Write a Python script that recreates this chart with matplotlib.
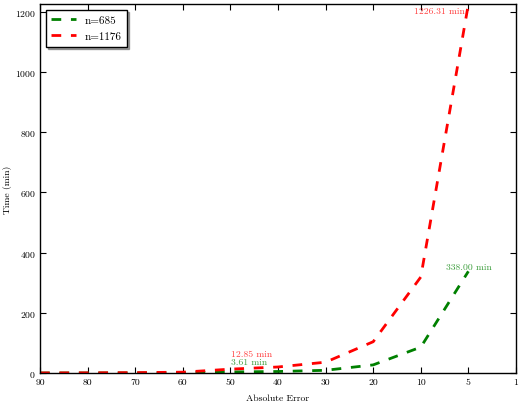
import numpy as np
import matplotlib
matplotlib.use('Agg')
import matplotlib.pyplot as plt

# data
abs_error = ['90', '80', '70', '60', '50', '40', '30', '20', '10', '5', '1']
time_685 = [0.1, 0.2, 0.4, 0.9, 3.61, 5.0, 9.0, 27.0, 86.0, 338.00]
time_1176 = [0.2, 0.5, 1.2, 2.8, 12.85, 20.0, 36.0, 104.0, 319.0, 1226.31]
labels = ['n=685', 'n=1176']

plt.rcParams['font.family'] = 'serif'
plt.rcParams['font.serif'] = ['cmr10', 'DejaVu Serif']
plt.rcParams['mathtext.fontset'] = 'cm'
plt.rcParams['axes.formatter.use_mathtext'] = True
plt.rcParams['xtick.direction'] = 'in'
plt.rcParams['ytick.direction'] = 'in'

fig = plt.figure(figsize=(5.22, 4.06), dpi=100)
ax = fig.add_axes([0.0766, 0.0788, 0.9119, 0.9089])

x = np.arange(len(time_685))
green = (0, 0.5, 0)
red = (1, 0, 0)
ax.plot(x, time_685, '--', color=green, lw=2, dashes=(3.5, 3.5), label=labels[0])
ax.plot(x, time_1176, '--', color=red, lw=2, dashes=(3.5, 3.5), label=labels[1])

# annotations
ax.annotate('%.2f min' % time_1176[-1], (x[-1], time_1176[-1]), xytext=(-4, -3),
            textcoords='offset pixels', ha='right', va='top', color=red, alpha=0.75, fontsize=7)
ax.annotate('%.2f min' % time_685[-1], (x[-1], time_685[-1]), xytext=(0, 2),
            textcoords='offset pixels', ha='center', va='baseline', color=green, alpha=0.75, fontsize=7)
ax.annotate('%.2f min' % time_1176[4], (x[4], time_1176[4]), xytext=(1, 13),
            textcoords='offset pixels', ha='left', va='baseline', color=red, alpha=0.75, fontsize=7)
ax.annotate('%.2f min' % time_685[4], (x[4], time_685[4]), xytext=(1, 8),
            textcoords='offset pixels', ha='left', va='baseline', color=green, alpha=0.75, fontsize=7)

ax.set_xlim(0, len(abs_error) - 1)
ax.set_ylim(0, 1226.31)
ax.set_xticks(np.arange(len(abs_error)))
ax.set_xticklabels(abs_error)
ax.set_yticks(np.arange(0, 1201, 200))
ax.tick_params(labelsize=7, top=True, right=True, length=4, width=0.8, pad=3)
ax.set_xlabel('Absolute Error', fontsize=7, labelpad=6)
ax.set_ylabel('Time (min)', fontsize=7, labelpad=2)
for s in ax.spines.values():
    s.set_linewidth(1)

leg = ax.legend(loc='upper left', fontsize=8, shadow={'ox': 1.5, 'oy': -1.5},
                fancybox=False, handlelength=2.2, borderpad=0.5, labelspacing=0.6,
                framealpha=1)
leg.get_frame().set_edgecolor('black')
leg.get_frame().set_linewidth(1)

fig.savefig('out.png', dpi=100, facecolor='white')
